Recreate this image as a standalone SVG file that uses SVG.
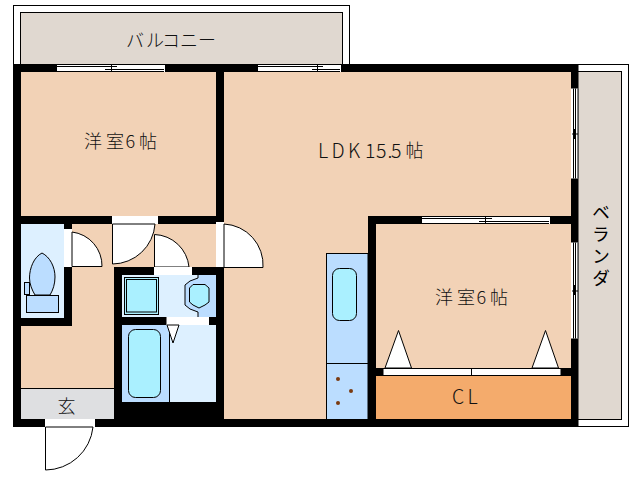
<svg xmlns="http://www.w3.org/2000/svg" width="638" height="480" viewBox="0 0 638 480">
<style>
.ln{stroke:#000;stroke-width:1;fill:none}
.wh{fill:#fff}
.wall{fill:#000}
.d{fill:#fff;stroke:#000;stroke-width:1}
.m{fill:#bbddff;stroke:#000;stroke-width:1}
.c{fill:#aaf0ff;stroke:#000;stroke-width:1}
text{font-family:"Noto Sans CJK JP","Liberation Sans",sans-serif;font-size:18px;font-weight:300;fill:#111}
.lat{font-size:19.5px}
.vert{writing-mode:vertical-rl;letter-spacing:4px;font-weight:400;fill:#000}
</style>
<rect width="638" height="480" fill="#fff"/>
<g id="balcony">
<rect x="13.5" y="5.5" width="336" height="60" class="d"/>
<rect x="20.5" y="12.500" width="322" height="53" fill="#e0d8d0" stroke="#000"/>
<text x="126 146 162 180 198" y="47">バルコニー</text>
</g>
<g id="veranda">
<rect x="574" y="64.500" width="54.500" height="362" class="d"/>
<rect x="574" y="71.500" width="47.500" height="348" fill="#e0d8d0" stroke="#000"/>
<text x="601" y="203" class="vert">ベランダ</text>
</g>
<g id="room-west">
<rect x="21" y="72" width="195" height="144" fill="#f2d2b6"/>
<text x="84 106 125.500 139" y="148">洋室6帖</text>
</g>
<g id="ldk">
<path d="M224 72H571V216H368V419H224Z" fill="#f2d2b6"/>
<text class="lat" x="318 331.500 348 365 376 387.500 391" y="158">LDK15.5</text>
<text x="405.500" y="157">帖</text>
</g>
<g id="hall">
<path d="M72 224H216V419H114V388H21V326H72Z" fill="#f2d2b6"/>
</g>
<g id="room-east">
<rect x="376" y="224" width="195" height="152" fill="#f2d2b6"/>
<text x="435 457 476.500 490" y="304">洋室6帖</text>
</g>
<g id="closet">
<rect x="376" y="376" width="195" height="43" fill="#f4ab6c"/>
<text class="lat" x="452 467.500" y="404">CL</text>
</g>
<g id="entrance">
<rect x="21" y="388.500" width="93" height="31" fill="#dedfe1"/>
<path d="M21 388.500H114" class="ln"/>
<text x="57.500" y="412.500">玄</text>
</g>
<g id="toilet">
<rect x="21" y="224" width="43" height="94" fill="#ddf0ff"/>
<path d="M42 253C34 257 29.500 268 29.500 278C29.500 284 32 290 35 295H50C53 290 55 284 55 277C55 267 50 257 42 253Z" class="m"/>
<rect x="24.500" y="282.500" width="5" height="12" class="m"/>
<rect x="26.500" y="295.500" width="32" height="17" class="m"/>
</g>
<g id="washroom">
<rect x="122" y="275" width="94" height="42" fill="#ddf0ff"/>
<path d="M198 275V278L190 281L185 285V305L190 309L198 312V317H216V275Z" fill="#bbddff"/>
<path d="M198 275V278L190 281L185 285V305L190 309L198 312V317" class="ln"/>
<path d="M193 284.500H205L209 288V302L205 305L199 308L193 305L189.500 302V288Z" class="c"/>
<rect x="124.500" y="277.500" width="34" height="37" fill="#aaf0ff" stroke="#000"/>
<rect x="126.500" y="279.500" width="30" height="32.500" fill="#aaf0ff" stroke="#000"/>
</g>
<g id="bath">
<rect x="122" y="325" width="94" height="77" fill="#ddf0ff"/>
<rect x="122" y="325" width="47.500" height="77" fill="#bbddff"/>
<path d="M169.500 325V402" class="ln"/>
<rect x="128.500" y="329.500" width="32" height="68" rx="7" class="c"/>
</g>
<g id="kitchen">
<rect x="326.500" y="253.500" width="41.500" height="166" class="m"/>
<path d="M326.500 363.500H368" class="ln"/>
<rect x="332.500" y="268.500" width="24" height="52" rx="7" class="c"/>
<circle cx="338" cy="379" r="2" fill="#7a3a10"/>
<circle cx="351" cy="391" r="2" fill="#7a3a10"/>
<circle cx="338" cy="403" r="2" fill="#7a3a10"/>
</g>
<g id="walls" class="wall">
<path d="M13 64H578.500V427H13ZM21 72V216H216V72ZM224 72V419H368V216H571V72ZM376 224V419H571V224ZM21 224V318H64V224ZM72 224V326H21V419H114V267H122H216V224ZM122 275V317H216V275ZM122 325V402H216V325Z" fill-rule="evenodd"/>
<rect x="376" y="368" width="7" height="8"/>
<rect x="561" y="368" width="10" height="8"/>
</g>
<g id="connectors">
<g id="windows">
<rect x="57" y="64" width="108" height="8" class="wh"/>
<path d="M57 64.500H165M57 66.500H117M105 69.500H164M57 71.500H164M111.500 64V72" class="ln"/>
<rect x="258" y="64" width="83" height="8" class="wh"/>
<path d="M258 64.500H341M258 66.500H323M312 69.500H340M258 71.500H340M317.500 64V72" class="ln"/>
<rect x="571" y="88.500" width="7.500" height="90" class="wh"/>
<path d="M573.500 88.500V178.500M575.500 88.500V178.500M578 88.500V178.500M572 134H578M574.500 129V139" class="ln"/>
<rect x="422" y="216" width="128" height="8" class="wh"/>
<path d="M422 216.500H550M422 218.500H492M479 221.500H549M422 223.500H549M485.500 216V224" class="ln"/>
<rect x="571" y="242.500" width="7.500" height="96" class="wh"/>
<path d="M573.500 242.500V338.500M575.500 242.500V338.500M578 242.500V338.500M572 291H578M574.500 285V295" class="ln"/>
</g>
<g id="doors">
<rect x="64" y="229" width="8" height="38" class="wh"/>
<path d="M72 232A34 34 0 0 1 102 266.500H72Z" class="d"/>
<rect x="112" y="216" width="46" height="8" class="wh"/>
<path d="M112.500 224V264A43 43 0 0 0 155 224Z" class="d"/>
<path d="M154.500 234.500A36 36 0 0 1 189 267H154.500Z" class="d"/>
<rect x="154" y="267" width="38" height="8" class="wh"/>
<rect x="216" y="222" width="8" height="45" class="wh"/>
<path d="M224 224A41 41 0 0 1 263 267.500H224Z" class="d"/>
<rect x="166.500" y="317" width="42.500" height="8" class="wh"/>
<path d="M167 325H179L173 343Z" class="d"/>
<rect x="45" y="419" width="50" height="8" class="wh"/>
<path d="M45.500 427V470A48 48 0 0 0 93 427Z" class="d"/>
<rect x="383" y="368.500" width="178" height="7" class="d"/>
<path d="M471.500 368.500V375.500" class="ln"/>
<path d="M398.500 330.500L385 368H411.500Z" class="d"/>
<path d="M545.500 330.500L532 368H558.500Z" class="d"/>
</g>
</g>
</svg>
